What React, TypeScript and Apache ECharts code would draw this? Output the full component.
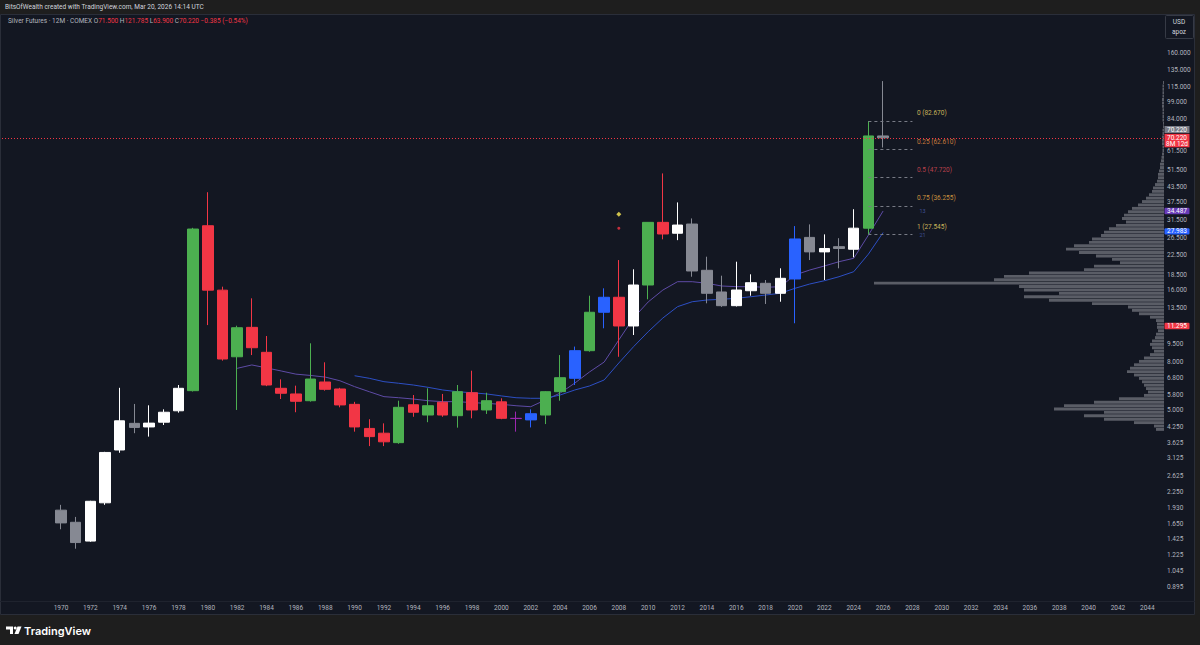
import React, { useEffect, useRef } from "react";
import * as echarts from "echarts";

// ---------- DATA ----------
const AXIS_YEARS = [
  "1967","1968","1969","1970","1971","1972","1973","1974","1975","1976","1977","1978","1979",
  "1980","1981","1982","1983","1984","1985","1986","1987","1988","1989","1990","1991","1992",
  "1993","1994","1995","1996","1997","1998","1999","2000","2001","2002","2003","2004","2005",
  "2006","2007","2008","2009","2010","2011","2012","2013","2014","2015","2016","2017","2018",
  "2019","2020","2021","2022","2023","2024","2025","2026","2027","2028","2029","2030","2031",
  "2032","2033","2034","2035","2036","2037","2038","2039","2040","2041","2042","2043","2044",
];

const CANDLE_YEARS = [
  "1970","1971","1972","1973","1974","1975","1976","1977","1978","1979",
  "1980","1981","1982","1983","1984","1985","1986","1987","1988","1989",
  "1990","1991","1992","1993","1994","1995","1996","1997","1998","1999",
  "2000","2001","2002","2003","2004","2005","2006","2007","2008","2009",
  "2010","2011","2012","2013","2014","2015","2016","2017","2018","2019",
  "2020","2021","2022","2023","2024","2025","2026",
];
const OPEN = [
  1.89, 1.68, 1.40, 2.03, 3.39, 4.39, 4.24, 4.44, 4.96, 6.03,
  29.9, 16.0, 8.38, 11.15, 8.75, 6.17, 5.84, 5.47, 6.56, 6.13,
  5.28, 4.18, 3.99, 3.64, 5.26, 4.76, 5.39, 4.73, 5.91, 5.00,
  5.41, 4.61, 4.54, 4.76, 5.97, 6.80, 8.89, 12.91, 14.93, 11.30,
  16.82, 30.9, 27.8, 30.4, 19.4, 15.72, 13.76, 15.91, 17.10, 15.52,
  17.83, 26.7, 23.2, 24.4, 23.8, 29.2, 71.5,
];
const HIGH = [
  1.99, 1.77, 2.07, 3.33, 6.20, 5.30, 5.23, 5.03, 6.37, 29.3,
  41.4, 16.55, 11.33, 14.78, 10.25, 6.73, 6.33, 9.55, 7.94, 6.20,
  5.41, 4.57, 4.39, 5.47, 5.78, 6.17, 5.84, 6.37, 7.32, 5.91,
  5.60, 4.92, 5.03, 6.00, 8.52, 9.25, 15.16, 16.29, 21.43, 19.59,
  31.0, 49.7, 37.5, 32.1, 22.14, 18.41, 21.09, 18.66, 17.65, 19.78,
  29.8, 30.3, 27.5, 26.5, 35.1, 82.67, 121.785,
];
const LOW = [
  1.57, 1.30, 1.39, 1.99, 3.30, 3.99, 3.86, 4.32, 4.87, 5.98,
  11.4, 8.07, 5.0, 8.52, 6.30, 5.56, 4.89, 5.42, 6.03, 5.13,
  4.05, 3.52, 3.52, 3.60, 4.68, 4.44, 4.68, 4.21, 4.61, 4.81,
  4.57, 4.05, 4.22, 4.36, 5.47, 6.37, 8.80, 11.05, 8.38, 10.35,
  14.64, 26.2, 26.0, 18.23, 14.08, 13.6, 13.65, 15.16, 13.99, 14.30,
  11.60, 21.43, 17.65, 19.78, 22.0, 27.545, 63.9,
];
const CLOSE = [
  1.67, 1.38, 2.06, 3.31, 4.50, 4.22, 4.40, 4.89, 6.17, 28.96,
  16.0, 8.20, 11.11, 9.15, 6.37, 5.88, 5.44, 6.75, 6.11, 5.25,
  4.24, 3.86, 3.67, 5.13, 4.89, 5.21, 4.76, 5.97, 5.00, 5.47,
  4.61, 4.60, 4.82, 5.97, 6.84, 8.89, 12.91, 14.93, 11.30, 16.82,
  30.9, 27.6, 30.1, 19.27, 15.52, 13.76, 16.02, 17.20, 15.52, 17.95,
  26.3, 23.2, 23.98, 23.98, 29.2, 71.5, 70.22,
];
const CANDLE_KIND = [
  "grey","grey","white","white","white","grey","white","white","white","green",
  "red","red","green","red","red","red","red","green","red","red",
  "red","red","red","green","red","green","red","green","red","green",
  "red","purple","blue","green","green","blue","green","blue","red","white",
  "green","red","white","grey","grey","grey","white","white","grey","white",
  "blue","grey","white","grey","white","green","grey",
];

const MA13 = [
  null, null, null, null, null, null, null, null, null, null,
  null, null, 7.49, 7.74, 7.52, 7.30, 7.08, 6.99, 6.88, 6.64,
  6.27, 5.97, 5.69, 5.63, 5.56, 5.47, 5.42, 5.42, 5.37, 5.33,
  5.28, 5.21, 5.16, 5.51, 5.89, 6.49, 7.23, 7.96, 9.87, 12.21,
  14.27, 16.02, 17.37, 17.37, 17.10, 16.66, 16.55, 16.55, 16.45, 16.55,
  18.54, 19.45, 20.23, 21.09, 21.80, 27.3, 34.487,
];
const MA21 = [
  null, null, null, null, null, null, null, null, null, null,
  null, null, null, null, null, null, null, null, null, null,
  6.97, 6.80, 6.58, 6.48, 6.37, 6.23, 6.07, 5.97, 5.91, 5.84,
  5.73, 5.63, 5.60, 5.60, 5.78, 6.07, 6.31, 6.69, 7.89, 9.24,
  10.69, 12.21, 13.63, 14.30, 14.54, 14.64, 14.78, 15.01, 15.26, 15.52,
  16.29, 16.98, 17.53, 18.23, 19.14, 22.7, 27.983,
];

const PRICE_TICKS = [
  160, 135, 115, 99, 84, 61.5, 51.5, 43.5, 37.5, 31.5, 26.5, 22.5, 18.5, 16, 13.5,
  9.5, 8, 6.8, 5.8, 5, 4.25, 3.625, 3.125, 2.625, 2.25, 1.93, 1.65, 1.425, 1.225, 1.045, 0.895,
];

const FIB_LEVELS = ["0", "0.25", "0.5", "0.75", "1"];
const FIB_PRICES = [82.67, 62.61, 47.72, 36.255, 27.545];
const FIB_COLORS = ["#c9b45a", "#c97a3c", "#b8414c", "#c9913f", "#c9b45a"];

const SIGNAL_YEAR = ["2008", "2008"];
const SIGNAL_PRICE = [33.4, 29.2];

const PROFILE_PRICE = [
  119.8, 115.9, 112.1, 108.5, 105.0, 101.6, 98.26, 95.07, 91.98, 89.0, 86.11, 83.31,
  80.61, 77.99, 75.46, 73.01, 70.64, 68.35, 66.13, 63.98, 61.9, 59.89, 57.95,
  56.07, 54.25, 52.49, 50.78, 49.13, 47.54, 45.99, 44.5, 43.05, 41.65,
  40.3, 38.99, 37.73, 36.5, 35.31, 34.17, 33.06, 31.98, 30.94, 29.94,
  28.97, 28.03, 27.12, 26.24, 25.38, 24.56, 23.76, 22.99, 22.24, 21.52,
  20.82, 20.15, 19.49, 18.86, 18.25, 17.65, 17.08, 16.53, 15.99, 15.47,
  14.97, 14.48, 14.01, 13.56, 13.12, 12.69, 12.28, 11.88, 11.49, 11.12,
  10.76, 10.41, 10.07, 9.745, 9.429, 9.122, 8.826, 8.539, 8.262, 7.993,
  7.734, 7.482, 7.239, 7.004, 6.777, 6.557, 6.344, 6.138, 5.938, 5.745,
  5.559, 5.378, 5.203, 5.034, 4.871, 4.713, 4.56, 4.411, 4.268, 4.13,
];
const PROFILE_VOLUME = [
  1, 1.5, 1.5, 1.5, 1.5, 2, 2, 2, 1.5, 1.5, 1.5, 1.5,
  1, 1, 1.5, 1.5, 2, 2, 2, 1.5, 1.5, 2, 2.5,
  3, 4, 4, 5, 6, 6, 7, 9, 11, 12,
  15, 18, 22, 26, 32, 36, 40, 42, 38, 48,
  55, 60, 63, 72, 75, 90, 98, 85, 68, 52,
  44, 70, 80, 135, 160, 170, 290, 145, 140, 105,
  140, 115, 72, 36, 32, 25, 14, 8, 7, 7,
  6, 8, 9, 12, 14, 12, 10, 14, 20, 25,
  30, 34, 37, 30, 25, 22, 20, 18, 16, 20,
  45, 70, 100, 110, 60, 80, 60, 30, 10, 8,
];

const TAGS = [
  { text: "34.487", price: 34.487, color: "#673ab7" },
  { text: "27.983", price: 27.983, color: "#2962ff" },
  { text: "11.295", price: 11.295, color: "#f23645" },
];
const LAST_PRICE = 70.22;

// ---------- STYLE ----------
const KIND_COLOR: Record<string, string> = {
  grey: "#868993",
  white: "#ffffff",
  green: "#4caf50",
  red: "#f23645",
  blue: "#2962ff",
  purple: "#9c27b0",
};
const FONT = "Roboto, 'Liberation Sans', sans-serif";
const LABEL_COLOR = "#b2b5be";
const Y_MIN = -0.2356;
const Y_MAX = 5.4439;
const LN = Math.log;

export default function App() {
  const ref = useRef<HTMLDivElement>(null);

  useEffect(() => {
    if (!ref.current) return;
    const chart = echarts.init(ref.current, undefined, { renderer: "svg" });

    const candleData = CANDLE_YEARS.map((y, i) => {
      const c = KIND_COLOR[CANDLE_KIND[i]];
      return {
        value: [y, LN(OPEN[i]), LN(CLOSE[i]), LN(LOW[i]), LN(HIGH[i])],
        itemStyle: { color: c, color0: c, borderColor: c, borderColor0: c, borderWidth: 1 },
      };
    });
    const maData = (arr: (number | null)[]) =>
      CANDLE_YEARS.map((y, i) => (arr[i] == null ? null : [y, LN(arr[i] as number)])).filter(
        (d) => d !== null
      );

    const fibLines = FIB_PRICES.map((p) => [
      { coord: ["2025", LN(p)] },
      { coord: ["2028", LN(p)] },
    ]);

    const option: any = {
      animation: false,
      backgroundColor: "#131722",
      textStyle: { fontFamily: FONT },
      grid: [
        { left: 9.62, right: 45.34, top: 15, bottom: 45 },
        { left: 0, right: 36, top: 15, bottom: 45 },
      ],
      xAxis: [
        {
          type: "category",
          gridIndex: 0,
          data: AXIS_YEARS,
          boundaryGap: true,
          axisLine: { show: false },
          axisTick: { show: false },
          splitLine: { show: false },
          axisLabel: {
            interval: (_i: number, v: string) => +v >= 1970 && +v % 2 === 0,
            color: LABEL_COLOR,
            fontSize: 6.5,
            margin: 4,
            fontFamily: FONT,
          },
        },
        { type: "value", gridIndex: 1, min: 0, max: 1164, inverse: true, show: false },
      ],
      yAxis: [
        { type: "value", gridIndex: 0, min: Y_MIN, max: Y_MAX, show: false },
        {
          type: "value",
          gridIndex: 1,
          min: Y_MIN,
          max: Y_MAX,
          position: "right",
          axisLine: { show: false },
          axisTick: { show: false },
          splitLine: { show: false },
          axisLabel: {
            customValues: PRICE_TICKS.map((t) => LN(t)),
            formatter: (v: number) => Math.exp(v).toFixed(3),
            color: LABEL_COLOR,
            fontSize: 6.5,
            margin: 3,
            fontFamily: FONT,
          },
        },
      ],
      series: [
        {
          type: "custom",
          name: "profile",
          xAxisIndex: 1,
          yAxisIndex: 1,
          z: 1,
          silent: true,
          encode: { x: 0, y: 1 },
          data: PROFILE_PRICE.map((p, i) => [PROFILE_VOLUME[i], LN(p)]),
          renderItem: (_params: any, api: any) => {
            const v = api.value(0);
            const p = api.value(1);
            const a = api.coord([0, p + 0.0165]);
            const b = api.coord([v, p - 0.0165]);
            return {
              type: "rect",
              shape: {
                x: Math.min(a[0], b[0]),
                y: a[1],
                width: Math.abs(a[0] - b[0]),
                height: Math.max(0.5, b[1] - a[1] - 0.5),
              },
              style: { fill: "#5a5d66" },
            };
          },
          markLine: {
            silent: true,
            symbol: "none",
            label: { show: false },
            lineStyle: { color: "#f23645", type: [1, 2], width: 1 },
            data: [{ yAxis: LN(LAST_PRICE) }],
          },
        },
        {
          type: "candlestick",
          name: "Silver",
          xAxisIndex: 0,
          yAxisIndex: 0,
          z: 3,
          barWidth: 11,
          encode: { x: 0, y: [1, 2, 3, 4] },
          data: candleData,
          markLine: {
            silent: true,
            symbol: "none",
            label: { show: false },
            lineStyle: { color: "#787b86", type: [3, 3], width: 1 },
            data: fibLines,
          },
        },
        {
          type: "line",
          name: "MA13",
          xAxisIndex: 0,
          yAxisIndex: 0,
          z: 2,
          showSymbol: false,
          data: maData(MA13),
          lineStyle: { color: "#5e4ba6", width: 1 },
        },
        {
          type: "line",
          name: "MA21",
          xAxisIndex: 0,
          yAxisIndex: 0,
          z: 2,
          showSymbol: false,
          data: maData(MA21),
          lineStyle: { color: "#2d4fc4", width: 1 },
        },
        {
          type: "scatter",
          xAxisIndex: 0,
          yAxisIndex: 0,
          z: 4,
          silent: true,
          data: [
            { value: [SIGNAL_YEAR[0], LN(SIGNAL_PRICE[0])], symbol: "diamond", symbolSize: 5, itemStyle: { color: "#ffee58" } },
            { value: [SIGNAL_YEAR[1], LN(SIGNAL_PRICE[1])], symbol: "circle", symbolSize: 3, itemStyle: { color: "#f23645" } },
          ],
        },
      ],
    };

    chart.setOption(option);

    const py = (p: number) => chart.convertToPixel({ yAxisIndex: 1 }, LN(p)) as number;
    const fibX = chart.convertToPixel({ xAxisIndex: 0 }, AXIS_YEARS.indexOf("2028")) as number;

    const tag = (y: number, text: string, color: string, h = 6.4) => ({
      type: "group",
      z: 50,
      children: [
        { type: "rect", z: 50, shape: { x: 1164.5, y: y - h / 2, width: 25, height: h, r: 1 }, style: { fill: color } },
        {
          type: "text",
          z: 51,
          x: 1177,
          y,
          style: { text, fill: "#ffffff", font: `6.5px ${FONT}`, align: "center", verticalAlign: "middle" },
        },
      ],
    });

    const yLast = py(LAST_PRICE);
    const graphics: any[] = [
      // header band
      { type: "rect", z: 40, shape: { x: 0, y: 0, width: 1200, height: 14 }, style: { fill: "#1e1e1e" } },
      {
        type: "text",
        z: 41,
        x: 5,
        y: 7,
        style: {
          text: "BitsOfWealth created with TradingView.com, Mar 20, 2026 14:14 UTC",
          fill: "#d1d4dc",
          font: `6.5px ${FONT}`,
          verticalAlign: "middle",
        },
      },
      // footer band
      { type: "rect", z: 40, shape: { x: 0, y: 615, width: 1200, height: 30 }, style: { fill: "#1e1e1e" } },
      // right strip
      { type: "rect", z: 40, shape: { x: 1195, y: 14, width: 5, height: 601 }, style: { fill: "#1e1e1e" } },
      // pane border and time-axis separator
      {
        type: "rect",
        z: 41,
        shape: { x: 0.5, y: 14.5, width: 1194, height: 600 },
        style: { fill: "none", stroke: "#2a2e39", lineWidth: 1 },
      },
      { type: "line", z: 41, shape: { x1: 0, y1: 601.5, x2: 1195, y2: 601.5 }, style: { stroke: "#1f232e", lineWidth: 1 } },
      // symbol title
      {
        type: "text",
        z: 41,
        x: 8,
        y: 21,
        style: {
          text: "{g|Silver Futures · 12M · COMEX O}{r|71.500}{g| H}{r|121.785}{g| L}{r|63.900}{g| C}{r|70.220}{r| −0.385 (−0.54%)}",
          verticalAlign: "middle",
          font: `6.5px ${FONT}`,
          rich: {
            g: { fill: "#b2b5be", font: `6.5px ${FONT}` },
            r: { fill: "#f23645", font: `6.5px ${FONT}` },
          },
        },
      },
      // USD box
      {
        type: "rect",
        z: 41,
        shape: { x: 1165.5, y: 15.5, width: 28, height: 23, r: 1 },
        style: { fill: "#131722", stroke: "#363a45", lineWidth: 1 },
      },
      { type: "text", z: 42, x: 1179, y: 21.5, style: { text: "USD", fill: "#d1d4dc", font: `6.5px ${FONT}`, align: "center", verticalAlign: "middle" } },
      { type: "text", z: 42, x: 1179, y: 31.5, style: { text: "apoz", fill: "#d1d4dc", font: `6.5px ${FONT}`, align: "center", verticalAlign: "middle" } },
      // logo
      {
        type: "polygon",
        z: 42,
        shape: { points: [[6, 626.5], [13, 626.5], [13, 634], [10, 634], [10, 629.5], [6, 629.5]] },
        style: { fill: "#ffffff" },
      },
      { type: "circle", z: 42, shape: { cx: 15.2, cy: 628, r: 1.5 }, style: { fill: "#ffffff" } },
      {
        type: "polygon",
        z: 42,
        shape: { points: [[17.5, 626.5], [21.5, 626.5], [18.5, 634], [14.5, 634]] },
        style: { fill: "#ffffff" },
      },
      {
        type: "text",
        z: 42,
        x: 24,
        y: 630.5,
        style: { text: "TradingView", fill: "#ffffff", font: `600 11px Inter, ${FONT}`, verticalAlign: "middle" },
      },
      // price tags
      {
        type: "group",
        z: 50,
        children: [
          { type: "rect", z: 50, shape: { x: 1164.5, y: yLast - 11.8, width: 25, height: 7 }, style: { fill: "#787b86" } },
          { type: "text", z: 51, x: 1177, y: yLast - 8.3, style: { text: "70.220", fill: "#ffffff", font: `6.5px ${FONT}`, align: "center", verticalAlign: "middle" } },
          { type: "rect", z: 50, shape: { x: 1164.5, y: yLast - 4, width: 25, height: 13.5 }, style: { fill: "#f23645" } },
          { type: "text", z: 51, x: 1177, y: yLast, style: { text: "70.220", fill: "#ffffff", font: `6.5px ${FONT}`, align: "center", verticalAlign: "middle" } },
          { type: "text", z: 51, x: 1177, y: yLast + 6.3, style: { text: "8M 12d", fill: "#ffffff", font: `6.5px ${FONT}`, align: "center", verticalAlign: "middle" } },
        ],
      },
      ...TAGS.map((t) => tag(py(t.price) - (t.price === 27.983 ? 1.2 : 0), t.text, t.color)),
      // fib labels
      ...FIB_PRICES.map((p, i) => ({
        type: "text",
        z: 45,
        x: fibX + 4.5,
        y: py(p) - 7.5,
        style: {
          text: `${FIB_LEVELS[i]} (${p.toFixed(3)})`,
          fill: FIB_COLORS[i],
          font: `6.5px ${FONT}`,
          verticalAlign: "middle",
        },
      })),
      // MA labels
      { type: "text", z: 45, x: fibX + 7, y: py(MA13[MA13.length - 1] as number), style: { text: "13", fill: "#3f4f96", font: `5.5px ${FONT}`, verticalAlign: "middle" } },
      { type: "text", z: 45, x: fibX + 7, y: py(FIB_PRICES[4]) + 1, style: { text: "21", fill: "#3f4f96", font: `5.5px ${FONT}`, verticalAlign: "middle" } },
    ];

    chart.setOption({ graphic: graphics });

    return () => chart.dispose();
  }, []);

  return (
    <div
      ref={ref}
      style={{ position: "fixed", left: 0, top: 0, width: 1200, height: 645 }}
    />
  );
}
